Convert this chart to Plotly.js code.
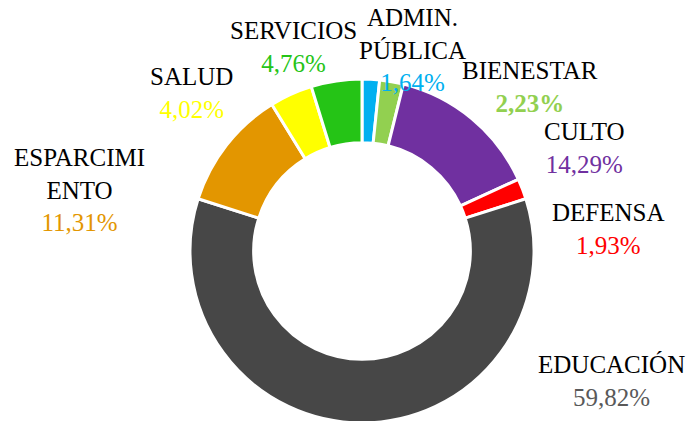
<!DOCTYPE html>
<html>
<head>
<meta charset="utf-8">
<script src="https://cdn.plot.ly/plotly-3.0.1.min.js"></script>
<style>
html,body{margin:0;padding:0;overflow:hidden;background:#fff;}
#chart{width:692px;height:425px;}
</style>
</head>
<body>
<div id="chart"></div>
<script>
// Data
var categories = ["ADMIN. PÚBLICA","BIENESTAR","CULTO","DEFENSA","EDUCACIÓN","ESPARCIMIENTO","SALUD","SERVICIOS"];
var labelNames = ["ADMIN.<br>PÚBLICA","BIENESTAR","CULTO","DEFENSA","EDUCACIÓN","ESPARCIMI<br>ENTO","SALUD","SERVICIOS"];
var values = [1.64, 2.23, 14.29, 1.93, 59.82, 11.31, 4.02, 4.76];

// Styles
var sliceColors = ["#00B0F0","#92D050","#7030A0","#FF0000","#474747","#E39600","#FFFF00","#25C416"];
var pctColors   = ["#00B0F0","#92D050","#7030A0","#FF0000","#595959","#E39600","#FFFF00","#25C416"];
var pctBold     = [false,true,false,false,false,false,false,false];
// label centre positions in pixels (x from left, y from top)
var labelPos = [[412,50],[530,87],[584,148],[608,229],[611,381],[79,190],[192,93],[293,47]];

var W = 692, H = 425;
var FONT = 'Liberation Serif, Times New Roman, serif';
var fmt = function(v){ return v.toFixed(2).replace('.', ',') + '%'; };

var annotations = categories.map(function(c, i){
  var p = fmt(values[i]);
  if (pctBold[i]) p = '<b>' + p + '</b>';
  var nameLines = labelNames[i].split('<br>').map(function(l){
    return '<span style="font-family:Liberation Serif;color:#000000">' + l + '</span>';
  }).join('<br>');
  return {
    xref: 'paper', yref: 'paper',
    x: labelPos[i][0] / W, y: (H - labelPos[i][1]) / H,
    xanchor: 'center', yanchor: 'middle',
    showarrow: false, align: 'center',
    text: nameLines + '<br><span style="font-family:Liberation Serif;color:' + pctColors[i] + '">' + p + '</span>',
    font: {family: FONT, size: 25, color: '#000000'}
  };
});

var trace = {
  type: 'pie',
  labels: categories,
  values: values,
  sort: false,
  direction: 'clockwise',
  rotation: 0,
  hole: 0.63,
  textinfo: 'none',
  hoverinfo: 'label+percent',
  marker: {colors: sliceColors, line: {color: '#FFFFFF', width: 3}},
  domain: {x: [190 / W, 534 / W], y: [2 / H, 346 / H]},
  showlegend: false
};

var layout = {
  width: W, height: H,
  margin: {l: 0, r: 0, t: 0, b: 0},
  paper_bgcolor: '#FFFFFF',
  plot_bgcolor: '#FFFFFF',
  font: {family: FONT},
  showlegend: false,
  annotations: annotations
};

Plotly.newPlot('chart', [trace], layout, {displayModeBar: false, staticPlot: true});
</script>
</body>
</html>
